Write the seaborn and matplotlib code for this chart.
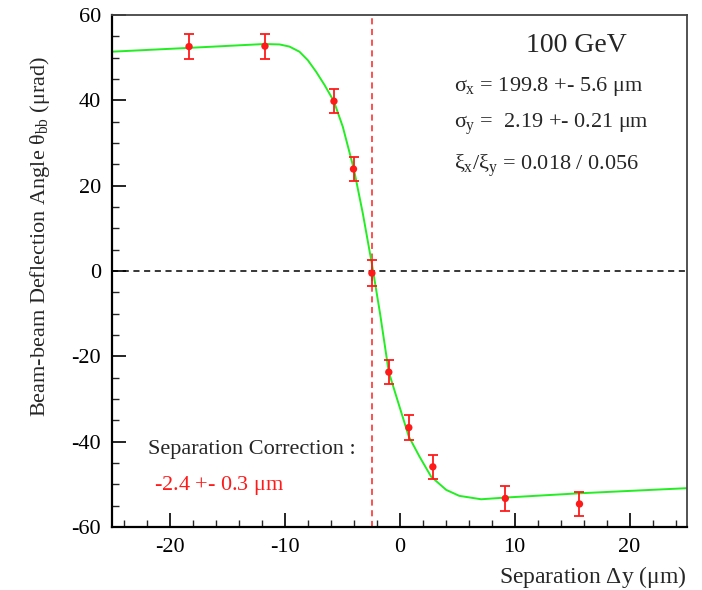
import numpy as np
import pandas as pd
import matplotlib
matplotlib.use("Agg")
import matplotlib.pyplot as plt
from matplotlib.ticker import MultipleLocator
import seaborn as sns

# measured points
sep = [-18.3, -11.7, -5.7, -4.0, -2.4, -0.93, 0.81, 2.9, 9.2, 15.65]
angle = [52.6, 52.7, 39.8, 23.9, -0.5, -23.7, -36.7, -45.9, -53.3, -54.6]
err = [2.9, 2.9, 2.85, 2.8, 3.0, 2.9, 2.85, 2.85, 2.9, 2.8]

# fitted curve
fit_x = [-25, -18.26, -11.74, -10.43, -9.57, -8.7, -7.97, -7.25, -6.52, -5.71,
         -4.93, -3.97, -3.19, -2.41, -1.7, -0.93, 0.0, 0.81, 1.74, 2.75,
         4.06, 5.2, 7.1, 9.2, 15.65, 25]
fit_y = [51.4, 52.3, 53.2, 53.1, 52.6, 51.4, 49.4, 46.7, 43.6, 39.8,
         33.8, 23.9, 13.5, 1.8, -9.8, -23.7, -31.8, -38.8, -43.5, -48.2,
         -51.3, -52.7, -53.5, -53.1, -52.1, -50.9]

x_ticks = [-20, -10, 0, 10, 20]
y_ticks = [-60, -40, -20, 0, 20, 40, 60]
correction = -2.4

sns.set_style("ticks")
plt.rcParams["font.family"] = ["Liberation Serif", "DejaVu Serif"]
plt.rcParams["mathtext.fontset"] = "custom"
plt.rcParams["mathtext.rm"] = "Liberation Serif"
plt.rcParams["mathtext.it"] = "Liberation Serif"
plt.rcParams["mathtext.bf"] = "Liberation Serif:bold"
plt.rcParams["axes.unicode_minus"] = False

fig = plt.figure(figsize=(7.02, 5.90), dpi=100)
ax = fig.add_axes([112/702, 63/590, 575/702, 512/590])

df_fit = pd.DataFrame({"x": fit_x, "y": fit_y})
df_pts = pd.DataFrame({"x": sep, "y": angle, "e": err})

ax.axhline(0, color="black", ls=(0, (4, 3)), lw=1.1, zorder=1)
ax.axvline(correction, color="#ff2020", ls=(0, (4, 3)), lw=1.1, zorder=1)

sns.lineplot(data=df_fit, x="x", y="y", ax=ax, color="#22ee22", lw=1.4,
             sort=False, estimator=None, zorder=2)
ax.errorbar(df_pts["x"], df_pts["y"], yerr=df_pts["e"], fmt="none",
            ecolor="#ff1a1a", elinewidth=1.3, capsize=3.5, capthick=1.3, zorder=3)
sns.scatterplot(data=df_pts, x="x", y="y", ax=ax, color="#ff1a1a", s=28,
                edgecolor="none", zorder=4)

ax.set_xlim(-25, 25)
ax.set_ylim(-60, 60)
ax.set_xticks(x_ticks)
ax.set_yticks(y_ticks)
ax.xaxis.set_minor_locator(MultipleLocator(2))
ax.yaxis.set_minor_locator(MultipleLocator(5))
ax.tick_params(which="major", direction="in", length=10, width=1.2,
               labelsize=16, colors="black", pad=8)
ax.tick_params(which="minor", direction="in", length=5, width=1.0)
ax.tick_params(top=False, right=False, which="both")
for s in ["left", "bottom"]:
    ax.spines[s].set_linewidth(1.6)
    ax.spines[s].set_color("black")
for s in ["top", "right"]:
    ax.spines[s].set_visible(True)
    ax.spines[s].set_linewidth(1.3)
    ax.spines[s].set_color("#444444")

ax.set_xlabel("")
ax.set_ylabel("")
fig.text(687/702, 1 - 577/590, r"Separation $\Delta$y ($\mathrm{\mu}$m)",
         ha="right", va="center", fontsize=17)
fig.text(40/702, 1 - 237/590, r"Beam-beam Deflection Angle $\theta_{\mathrm{bb}}$ ($\mathrm{\mu}$rad)",
         ha="center", va="center", rotation=90, fontsize=16)

ax.text(0.72, 0.94, "100 GeV", transform=ax.transAxes, fontsize=20,
        ha="left", va="center")
ax.text(0.595, 0.86, r"$\sigma_{\mathrm{x}}$ = 199.8 +- 5.6 $\mathrm{\mu}$m", transform=ax.transAxes,
        fontsize=16, ha="left", va="center")
ax.text(0.595, 0.787, r"$\sigma_{\mathrm{y}}$ =  2.19 +- 0.21 $\mathrm{\mu}$m", transform=ax.transAxes,
        fontsize=16, ha="left", va="center")
ax.text(0.595, 0.705, r"$\xi_{\mathrm{x}}/\xi_{\mathrm{y}}$ = 0.018 / 0.056", transform=ax.transAxes,
        fontsize=16, ha="left", va="center")
ax.text(0.062, 0.152, "Separation Correction :", transform=ax.transAxes,
        fontsize=16, ha="left", va="center")
ax.text(0.073, 0.082, r"-2.4 +- 0.3 $\mathrm{\mu}$m", transform=ax.transAxes,
        fontsize=16, ha="left", va="center", color="#ff1a1a")

fig.savefig("out.png", dpi=100)
